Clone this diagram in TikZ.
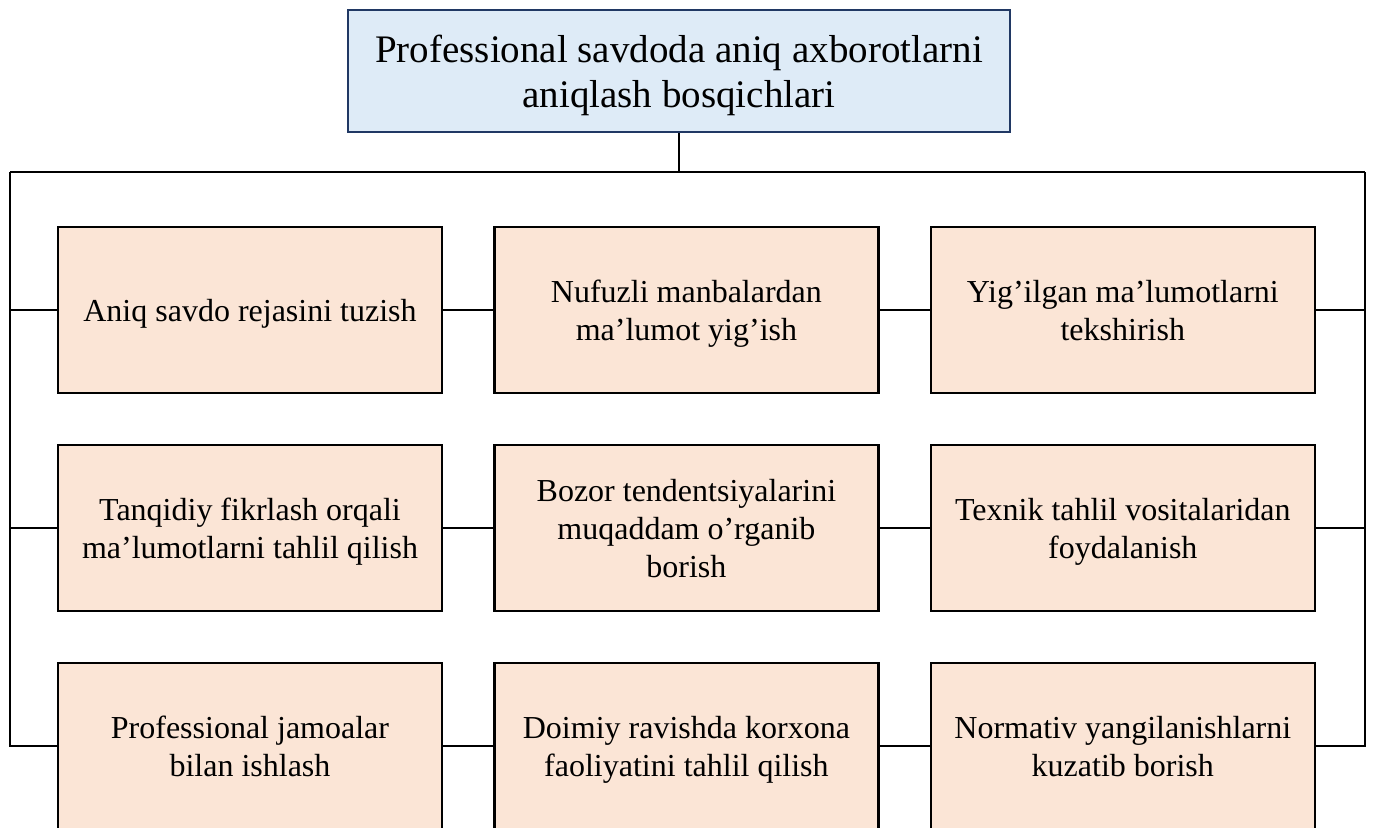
\documentclass[tikz,border=0pt]{standalone}
\usepackage{fontspec}
\setmainfont{Liberation Serif}
\usetikzlibrary{positioning}
\definecolor{peach}{HTML}{FBE5D6}
\definecolor{paleblue}{HTML}{DEEBF7}
\definecolor{navy}{HTML}{203864}

\begin{document}
\begin{tikzpicture}[node distance=24.8pt and 25pt, line width=1pt,
    stage/.style={draw, line width=1.2pt, fill=peach, minimum width=192pt,
      minimum height=83pt, align=center, text depth=0pt, font=\fontsize{16}{19}\selectfont},
    headbox/.style={draw=navy, line width=1.1pt, fill=paleblue, minimum width=331pt,
      minimum height=61pt, align=center, text depth=0pt, font=\fontsize{19.5}{22.5}\selectfont}]
      \useasboundingbox (0,0) rectangle (687pt,-413.5pt);

      \node[headbox] (head) at (339.5pt,-35.5pt) {Professional savdoda aniq axborotlarni\\aniqlash bosqichlari};

      \node[stage] (a1) at (125pt,-155pt) {Aniq savdo rejasini tuzish};
      \node[stage, right=of a1] (a2) {Nufuzli manbalardan\\ma’lumot yig’ish};
      \node[stage, right=of a2] (a3) {Yig’ilgan ma’lumotlarni\\tekshirish};
      \node[stage, below=of a1] (b1) {Tanqidiy fikrlash orqali\\ma’lumotlarni tahlil qilish};
      \node[stage, right=of b1] (b2) {Bozor tendentsiyalarini\\muqaddam o’rganib\\borish};
      \node[stage, right=of b2] (b3) {Texnik tahlil vositalaridan\\foydalanish};
      \node[stage, below=of b1] (c1) {Professional jamoalar\\bilan ishlash};
      \node[stage, right=of c1] (c2) {Doimiy ravishda korxona\\faoliyatini tahlil qilish};
      \node[stage, right=of c2] (c3) {Normativ yangilanishlarni\\kuzatib borish};

      \coordinate (busL) at (5pt,-86pt);
      \coordinate (busR) at (682.5pt,-86pt);

      % bus
      \draw (head) -- (head |- busL);
      \draw (busL) -- (busR);
      \draw (busL) |- (c1);
      \draw (busR) |- (c3);
      \draw (busL |- a1) -- (a1);
      \draw (busL |- b1) -- (b1);
      \draw (busR |- a3) -- (a3);
      \draw (busR |- b3) -- (b3);

      % rows
      \draw (a1) -- (a2);
      \draw (a2) -- (a3);
      \draw (b1) -- (b2);
      \draw (b2) -- (b3);
      \draw (c1) -- (c2);
      \draw (c2) -- (c3);
\end{tikzpicture}
\end{document}
